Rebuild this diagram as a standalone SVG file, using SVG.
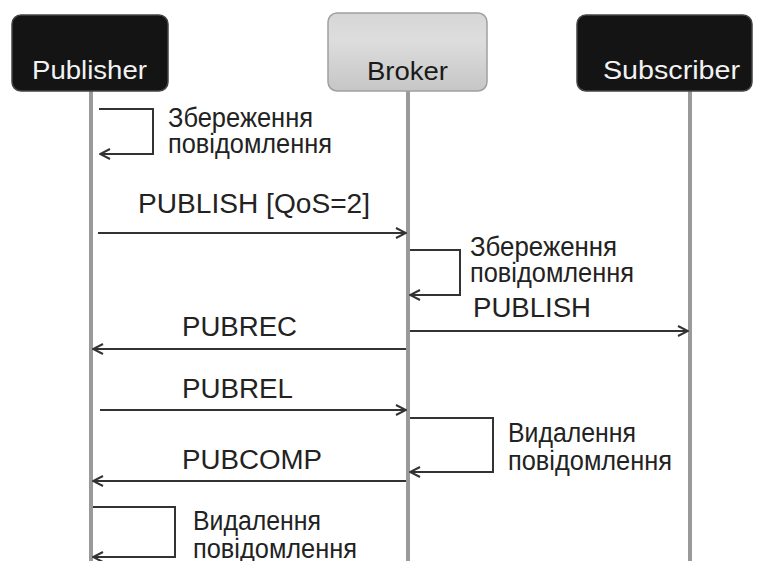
<svg xmlns="http://www.w3.org/2000/svg" width="760" height="561" viewBox="0 0 760 561">
  <style>
    .lbl { font-family: "Liberation Sans", Arial, sans-serif; font-size: 27px; fill: #222; }
    .head { font-family: "Liberation Sans", Arial, sans-serif; font-size: 26px; }
    .life { stroke: #9a9a9a; stroke-width: 4; fill: none; }
    .msg { stroke: #333; stroke-width: 2; fill: none; }
  </style>
  <defs>
    <marker id="arrow" viewBox="0 0 12 12" refX="11" refY="6" markerWidth="12" markerHeight="12" markerUnits="userSpaceOnUse" orient="auto">
      <polyline points="1,1 11,6 1,11" fill="none" stroke="#333" stroke-width="2"/>
    </marker>
    <linearGradient id="brokerFill" x1="0" y1="0" x2="0" y2="1">
      <stop offset="0" stop-color="#d6d6d6"/>
      <stop offset="0.35" stop-color="#dddddd"/>
      <stop offset="1" stop-color="#c6c6c6"/>
    </linearGradient>
  </defs>

  <rect width="760" height="561" fill="#ffffff"/>

  <!-- lifelines -->
  <g id="lifelines">
    <line class="life" x1="91" y1="91" x2="91" y2="561"/>
    <line class="life" x1="408" y1="91" x2="408" y2="561"/>
    <line class="life" x1="690" y1="91" x2="690" y2="561"/>
  </g>

  <!-- participants -->
  <g id="publisher">
    <rect x="12" y="15" width="156" height="76" rx="9" fill="#141414" stroke="#444" stroke-width="1.5"/>
    <text class="head" x="32" y="79" fill="#f2f2f2" textLength="115" lengthAdjust="spacingAndGlyphs">Publisher</text>
  </g>
  <g id="broker">
    <rect x="328" y="13" width="159" height="78" rx="9" fill="url(#brokerFill)" stroke="#a0a0a0" stroke-width="1.5"/>
    <text class="head" x="367" y="80" fill="#1a1a1a" textLength="81" lengthAdjust="spacingAndGlyphs">Broker</text>
  </g>
  <g id="subscriber">
    <rect x="577" y="15" width="175" height="76" rx="9" fill="#141414" stroke="#444" stroke-width="1.5"/>
    <text class="head" x="603" y="79" fill="#f2f2f2" textLength="137" lengthAdjust="spacingAndGlyphs">Subscriber</text>
  </g>

  <!-- messages and self-actions -->
  <g id="connectors">
    <polyline class="msg" points="99,109 153,109 153,154 100,154" marker-end="url(#arrow)"/>
    <line class="msg" x1="98" y1="233" x2="406" y2="233" marker-end="url(#arrow)"/>
    <polyline class="msg" points="410,250 460,250 460,295 410,295" marker-end="url(#arrow)"/>
    <line class="msg" x1="410" y1="331" x2="688" y2="331" marker-end="url(#arrow)"/>
    <line class="msg" x1="406" y1="349" x2="93" y2="349" marker-end="url(#arrow)"/>
    <line class="msg" x1="100" y1="410" x2="406" y2="410" marker-end="url(#arrow)"/>
    <polyline class="msg" points="410,418 493,418 493,472 410,472" marker-end="url(#arrow)"/>
    <line class="msg" x1="406" y1="481" x2="93" y2="481" marker-end="url(#arrow)"/>
    <polyline class="msg" points="93,507 175,507 175,557 93,557" marker-end="url(#arrow)"/>
  </g>

  <!-- labels -->
  <g id="labels">
    <text class="lbl" x="168" y="127" textLength="145" lengthAdjust="spacingAndGlyphs">Збереження</text>
    <text class="lbl" x="168" y="153" textLength="164" lengthAdjust="spacingAndGlyphs">повідомлення</text>
    <text class="lbl" x="138" y="213" textLength="232" lengthAdjust="spacingAndGlyphs">PUBLISH [QoS=2]</text>
    <text class="lbl" x="470" y="256" textLength="147" lengthAdjust="spacingAndGlyphs">Збереження</text>
    <text class="lbl" x="470" y="282" textLength="164" lengthAdjust="spacingAndGlyphs">повідомлення</text>
    <text class="lbl" x="473" y="317" textLength="118" lengthAdjust="spacingAndGlyphs">PUBLISH</text>
    <text class="lbl" x="182" y="336" textLength="115" lengthAdjust="spacingAndGlyphs">PUBREC</text>
    <text class="lbl" x="182" y="398" textLength="111" lengthAdjust="spacingAndGlyphs">PUBREL</text>
    <text class="lbl" x="508" y="442" textLength="128" lengthAdjust="spacingAndGlyphs">Видалення</text>
    <text class="lbl" x="508" y="470" textLength="164" lengthAdjust="spacingAndGlyphs">повідомлення</text>
    <text class="lbl" x="182" y="469" textLength="140" lengthAdjust="spacingAndGlyphs">PUBCOMP</text>
    <text class="lbl" x="193" y="530" textLength="128" lengthAdjust="spacingAndGlyphs">Видалення</text>
    <text class="lbl" x="193" y="558" textLength="164" lengthAdjust="spacingAndGlyphs">повідомлення</text>
  </g>
</svg>
